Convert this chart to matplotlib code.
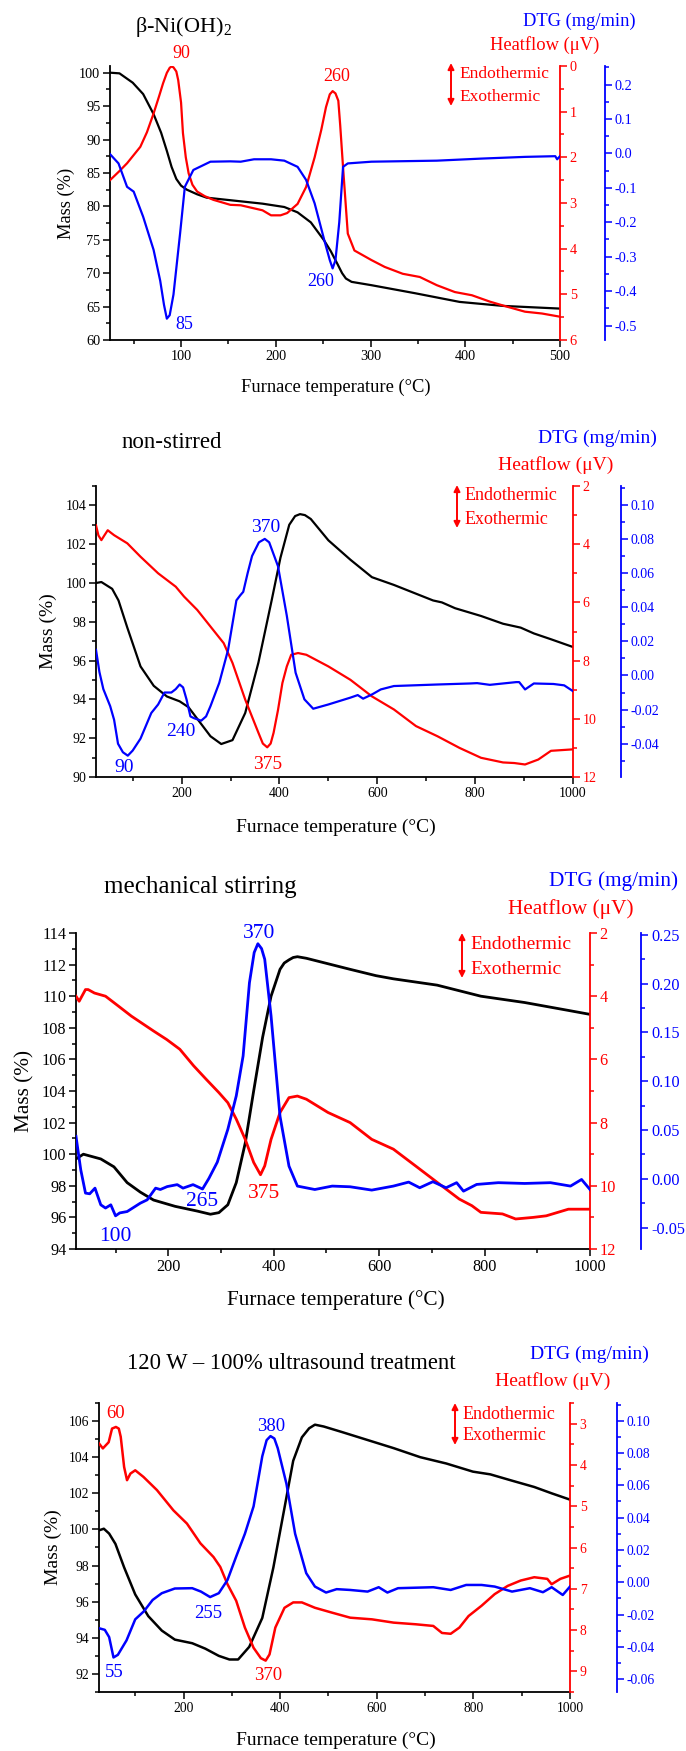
import matplotlib.pyplot as plt
from matplotlib.ticker import MultipleLocator, FormatStrFormatter

plt.rcParams['font.family'] = ['Liberation Serif', 'DejaVu Serif']
plt.rcParams['mathtext.fontset'] = 'custom'
plt.rcParams['mathtext.rm'] = 'Liberation Serif'
plt.rcParams['mathtext.it'] = 'Liberation Serif:italic'
plt.rcParams['axes.unicode_minus'] = False

# ---------------- beta-Ni(OH)2 ----------------
ni_mass_T = [25, 35, 49, 60, 71, 79, 85, 90, 95, 100, 106, 117, 127, 140, 186, 209, 223, 237, 251, 258,
             265, 270, 274, 280, 301, 347, 394, 440, 500]
ni_mass = [100, 99.9, 98.5, 96.8, 93.8, 91.0, 88.3, 85.9, 84.1, 83.1, 82.5, 81.8, 81.3, 81.1, 80.4, 79.9,
           79.1, 77.6, 74.9, 73.3, 71.4, 70.0, 69.2, 68.7, 68.2, 67.0, 65.7, 65.1, 64.7]
ni_hf_T = [25, 35, 43, 50, 57, 64, 71, 77, 81, 85, 88, 90, 92, 95, 97, 100, 102, 105, 108, 112, 117, 125,
           134, 152, 163, 186, 195, 205, 212, 223, 232, 241, 248, 253, 257, 260, 263, 266, 268, 271, 276,
           283, 301, 315, 334, 352, 370, 389, 407, 426, 444, 463, 481, 500]
ni_hf = [2.5, 2.3, 2.13, 1.95, 1.77, 1.45, 1.04, 0.65, 0.38, 0.15, 0.04, 0.01, 0.03, 0.12, 0.31, 0.8, 1.47,
         2.0, 2.35, 2.6, 2.75, 2.85, 2.93, 3.04, 3.05, 3.16, 3.27, 3.27, 3.22, 3.02, 2.65, 2.0, 1.4, 0.9,
         0.62, 0.55, 0.6, 0.76, 1.3, 2.22, 3.67, 4.04, 4.25, 4.4, 4.55, 4.62, 4.8, 4.95, 5.02, 5.16, 5.27,
         5.38, 5.42, 5.49]
ni_dtg_T = [25, 34, 43, 50, 60, 71, 78, 82, 85, 88, 92, 99, 104, 113, 131, 152, 163, 177, 195, 209, 223, 232,
            241, 251, 257, 260, 263, 267, 271, 276, 301, 370, 417, 463, 495, 497, 500]
ni_dtg = [-0.002, -0.029, -0.097, -0.111, -0.184, -0.28, -0.37, -0.44, -0.48, -0.47, -0.41, -0.232,
          -0.097, -0.048, -0.024, -0.023, -0.024, -0.017, -0.017, -0.021, -0.039, -0.077, -0.145, -0.25,
          -0.31, -0.334, -0.31, -0.2, -0.039, -0.029, -0.024, -0.021, -0.015, -0.01, -0.008, -0.017, -0.008]

# ---------------- non-stirred ----------------
ns_mass_T = [25, 36, 58, 71, 89, 116, 143, 170, 196, 214, 232, 259, 281, 304, 330, 357, 384, 402, 420, 432,
             442, 452, 464, 500, 545, 589, 634, 679, 714, 732, 759, 812, 857, 893, 920, 955, 1000]
ns_mass = [100, 100.05, 99.7, 99.1, 97.7, 95.7, 94.7, 94.15, 93.9, 93.6, 93.0, 92.1, 91.7, 91.9, 93.3,
           95.9, 99.1, 101.3, 103.0, 103.45, 103.55, 103.5, 103.3, 102.2, 101.2, 100.3, 99.9, 99.45, 99.1,
           99.0, 98.7, 98.3, 97.9, 97.7, 97.4, 97.1, 96.7]
ns_hf_T = [25, 30, 36, 42, 49, 55, 62, 89, 116, 152, 188, 205, 232, 259, 286, 304, 330, 357, 366, 375, 382,
           388, 397, 406, 415, 424, 438, 455, 500, 545, 589, 634, 679, 723, 768, 812, 857, 880, 902, 929,
           955, 1000]
ns_hf = [3.35, 3.7, 3.86, 3.7, 3.52, 3.6, 3.69, 3.97, 4.43, 5.0, 5.46, 5.8, 6.26, 6.83, 7.4, 8.08, 9.34,
         10.48, 10.85, 10.98, 10.85, 10.48, 9.7, 8.77, 8.2, 7.8, 7.74, 7.8, 8.2, 8.66, 9.23, 9.68, 10.25,
         10.6, 11.0, 11.34, 11.5, 11.52, 11.57, 11.4, 11.1, 11.05]
ns_dtg_T = [25, 32, 40, 54, 62, 70, 80, 90, 100, 116, 138, 152, 165, 179, 188, 196, 203, 210, 218, 225, 240,
            250, 259, 277, 295, 312, 320, 326, 335, 344, 358, 370, 379, 397, 415, 433, 451, 469, 500, 545,
            560, 571, 590, 607, 634, 723, 790, 804, 830, 884, 890, 902, 920, 960, 982, 1000]
ns_dtg = [0.015, 0.002, -0.008, -0.018, -0.026, -0.04, -0.045, -0.047, -0.044, -0.037, -0.022, -0.017,
          -0.010, -0.010, -0.008, -0.0053, -0.007, -0.014, -0.024, -0.025, -0.0265, -0.024, -0.018,
          -0.0043, 0.015, 0.044, 0.047, 0.049, 0.06, 0.070, 0.078, 0.080, 0.078, 0.064, 0.035, 0.0016,
          -0.014, -0.0195, -0.017, -0.013, -0.0115, -0.0136, -0.011, -0.0082, -0.0062, -0.0053, -0.0047,
          -0.0045, -0.0055, -0.0039, -0.0039, -0.0082, -0.0047, -0.005, -0.0058, -0.0092]

# ---------------- mechanical stirring ----------------
ms_mass_T = [25, 39, 72, 97, 122, 147, 172, 213, 255, 280, 296, 313, 329, 346, 362, 379, 395, 412, 420, 429,
             437, 445, 462, 545, 594, 627, 710, 793, 876, 959, 1000]
ms_mass = [99.7, 100.0, 99.7, 99.2, 98.2, 97.6, 97.1, 96.7, 96.4, 96.2, 96.3, 96.8, 98.2, 100.7, 104.0,
           107.4, 110.0, 111.7, 112.1, 112.3, 112.45, 112.5, 112.4, 111.7, 111.3, 111.1, 110.7, 110.0,
           109.6, 109.1, 108.85]
ms_hf_T = [25, 31, 43, 48, 60, 81, 106, 130, 172, 197, 222, 248, 272, 296, 313, 329, 346, 362, 375, 383,
           395, 412, 429, 445, 462, 503, 545, 586, 627, 669, 710, 752, 776, 793, 834, 859, 892, 917, 959,
           1000]
ms_hf = [4.0, 4.16, 3.79, 3.79, 3.9, 4.0, 4.32, 4.63, 5.1, 5.37, 5.68, 6.2, 6.63, 7.05, 7.37, 7.89, 8.53,
         9.26, 9.65, 9.37, 8.53, 7.68, 7.21, 7.16, 7.26, 7.68, 8.0, 8.53, 8.84, 9.37, 9.89, 10.42, 10.63,
         10.84, 10.89, 11.05, 11.0, 10.95, 10.74, 10.74]
ms_dtg_T = [25, 34, 43, 51, 61, 72, 81, 91, 100, 108, 122, 147, 160, 176, 185, 198, 217, 228, 247, 265, 277,
            293, 313, 329, 342, 354, 363, 370, 377, 383, 395, 412, 429, 445, 478, 511, 545, 586, 627, 656,
            677, 702, 727, 747, 760, 785, 826, 876, 925, 963, 984, 1000]
ms_dtg = [0.0435, 0.0093, -0.0147, -0.0154, -0.0096, -0.0267, -0.030, -0.0267, -0.038, -0.035, -0.0336,
          -0.025, -0.0216, -0.0096, -0.011, -0.008, -0.006, -0.0096, -0.006, -0.0105, 0.0003, 0.017,
          0.0507, 0.085, 0.126, 0.201, 0.232, 0.241, 0.236, 0.225, 0.167, 0.064, 0.013, -0.0075, -0.011,
          -0.0075, -0.0082, -0.0116, -0.0075, -0.0034, -0.0092, -0.003, -0.0092, -0.004, -0.0127, -0.0058,
          -0.004, -0.0048, -0.004, -0.0075, -0.0007, -0.011]

# ---------------- 120 W - 100% ultrasound ----------------
us_mass_T = [25, 35, 46, 59, 77, 100, 127, 155, 182, 218, 245, 273, 295, 313, 336, 363, 386, 409, 427, 445,
             460, 472, 490, 527, 563, 599, 635, 690, 744, 799, 835, 880, 926, 962, 1000]
us_mass = [99.95, 100.04, 99.77, 99.2, 97.9, 96.4, 95.2, 94.4, 93.9, 93.7, 93.4, 93.0, 92.8, 92.8, 93.5,
           95.1, 97.9, 101.2, 103.8, 105.1, 105.6, 105.8, 105.7, 105.4, 105.1, 104.8, 104.5, 104.0, 103.65,
           103.2, 103.05, 102.7, 102.35, 102.0, 101.65]
us_hf_T = [25, 33, 45, 52, 60, 66, 70, 77, 83, 90, 100, 117, 145, 179, 207, 235, 262, 276, 291, 309, 327,
           345, 360, 370, 378, 390, 409, 427, 445, 472, 508, 545, 590, 635, 681, 717, 735, 753, 771, 790,
           817, 844, 871, 898, 926, 953, 962, 980, 1000]
us_hf = [3.48, 3.6, 3.45, 3.12, 3.08, 3.12, 3.32, 4.05, 4.37, 4.21, 4.13, 4.29, 4.61, 5.1, 5.42, 5.9,
         6.23, 6.47, 6.89, 7.29, 7.94, 8.43, 8.68, 8.74, 8.59, 7.94, 7.46, 7.33, 7.33, 7.46, 7.58, 7.7,
         7.74, 7.82, 7.86, 7.9, 8.07, 8.09, 7.94, 7.66, 7.41, 7.13, 6.93, 6.8, 6.72, 6.76, 6.89, 6.76, 6.68]
us_dtg_T = [25, 37, 46, 55, 64, 82, 100, 118, 136, 155, 182, 218, 236, 255, 273, 291, 309, 327, 345, 363,
            372, 380, 388, 395, 413, 431, 454, 472, 495, 517, 545, 581, 604, 622, 644, 717, 753, 785, 817,
            844, 880, 917, 944, 962, 985, 1000]
us_dtg = [-0.0285, -0.0295, -0.034, -0.0466, -0.045, -0.036, -0.023, -0.018, -0.011, -0.0068, -0.0039,
          -0.0037, -0.0058, -0.0092, -0.0068, 0.0014, 0.0159, 0.030, 0.047, 0.078, 0.088, 0.0905, 0.089,
          0.083, 0.061, 0.030, 0.0056, -0.0027, -0.0064, -0.0043, -0.0048, -0.0058, -0.0031, -0.0064,
          -0.0037, -0.0031, -0.0048, -0.0017, -0.0017, -0.0027, -0.0058, -0.0037, -0.0062, -0.0031,
          -0.0079, -0.0027]

W, H = 686, 1751
fig = plt.figure(figsize=(W / 100, H / 100), dpi=100)


def fx(x):
    return x / W


def fy(y):
    return 1 - y / H


def panel(box, curves, xlim, xmaj, mlim, mmaj, hlim, hmaj, dlim, dmaj, dfmt, fs, lw, peaks, txt):
    l, r, t, b = box
    ax = fig.add_axes([fx(l), fy(b), (r - l) / W, (b - t) / H])
    axh = ax.twinx()
    axd = ax.twinx()
    (Tm, m), (Th, h), (Td, d) = curves
    ax.plot(Tm, m, color='black', lw=lw)
    axh.plot(Th, h, color='red', lw=lw)
    axd.plot(Td, d, color='blue', lw=lw)

    ax.set_xlim(*xlim)
    ax.set_ylim(*mlim)
    axh.set_ylim(*hlim)
    axd.set_ylim(*dlim)

    ax.xaxis.set_major_locator(MultipleLocator(xmaj))
    ax.xaxis.set_minor_locator(MultipleLocator(xmaj / 2))
    ax.yaxis.set_major_locator(MultipleLocator(mmaj))
    ax.yaxis.set_minor_locator(MultipleLocator(mmaj / 2))
    axh.yaxis.set_major_locator(MultipleLocator(hmaj))
    axh.yaxis.set_minor_locator(MultipleLocator(hmaj / 2))
    axd.yaxis.set_major_locator(MultipleLocator(dmaj))
    axd.yaxis.set_minor_locator(MultipleLocator(dmaj / 2))
    axd.yaxis.set_major_formatter(FormatStrFormatter(dfmt))

    for a in (ax, axh, axd):
        a.spines['top'].set_visible(False)
        a.tick_params(which='major', direction='out', length=5, width=1.1, labelsize=fs['tick'], pad=2)
        a.tick_params(which='minor', direction='out', length=3, width=1.1)
    ax.spines['right'].set_visible(False)
    for a in (axh, axd):
        a.spines['left'].set_visible(False)
        a.spines['bottom'].set_visible(False)
    for s in ('left', 'bottom'):
        ax.spines[s].set_linewidth(1.3)
    axh.spines['right'].set_color('red')
    axh.spines['right'].set_linewidth(1.3)
    axh.tick_params(axis='y', which='both', colors='red')
    axd.spines['right'].set_position(('axes', 1.1))
    axd.spines['right'].set_color('blue')
    axd.spines['right'].set_linewidth(1.3)
    axd.tick_params(axis='y', which='both', colors='blue')

    for label, T, yf, col in peaks:
        ax.annotate(label, xy=(T, yf), xycoords=('data', 'axes fraction'), ha='center', va='center',
                    color=col, fontsize=fs['peak'], annotation_clip=False)

    title, ty, tx = txt['title']
    fig.text(fx(tx), fy(ty), title, fontsize=fs['title'], ha='left', va='center')
    dx, dy = txt['dtg']
    fig.text(fx(dx), fy(dy), 'DTG (mg/min)', color='blue', fontsize=fs['axis'], ha='right', va='center')
    hx, hy = txt['hf']
    fig.text(fx(hx), fy(hy), 'Heatflow (\u03bcV)', color='red', fontsize=fs['axis'], ha='right', va='center')
    fig.text(fx(336), fy(txt['xlab']), 'Furnace temperature (\u00b0C)', fontsize=fs['axis'],
             ha='center', va='center')
    fig.text(fx(txt['ylab']), fy((t + b) / 2), 'Mass (%)', fontsize=fs['axis'], rotation=90,
             ha='center', va='center')

    # endothermic / exothermic double arrow
    arx, ey1, ey2 = txt['endo']
    fig.text(fx(arx + 8), fy(ey1), 'Endothermic', color='red', fontsize=fs['endo'], ha='left', va='center')
    fig.text(fx(arx + 8), fy(ey2), 'Exothermic', color='red', fontsize=fs['endo'], ha='left', va='center')
    ax.annotate('', xy=(fx(arx), fy(ey1 - 11)), xytext=(fx(arx), fy(ey2 + 9)), xycoords='figure fraction',
                arrowprops=dict(arrowstyle='<|-|>', color='red', lw=1.4, mutation_scale=9,
                                shrinkA=0, shrinkB=0))
    return ax


panel((110, 560, 66, 340),
      [(ni_mass_T, ni_mass), (ni_hf_T, ni_hf), (ni_dtg_T, ni_dtg)],
      (25, 500), 100, (60, 101), 5, (6, 0), 1, (-0.542, 0.254), 0.1, '%.1f',
      dict(tick=10.3, peak=13, title=16, axis=13.3, endo=12.5), 1.6,
      [('90', 100, 1.044, 'red'), ('260', 264, 0.96, 'red'),
       ('260', 247, 0.212, 'blue'), ('85', 103, 0.055, 'blue')],
      dict(title=('\u03b2-Ni(OH)$_2$', 27, 135), dtg=(636, 21), hf=(599, 45), xlab=387, ylab=66,
           endo=(451, 74, 97)))

panel((96, 573, 486, 777),
      [(ns_mass_T, ns_mass), (ns_hf_T, ns_hf), (ns_dtg_T, ns_dtg)],
      (25, 1000), 200, (90, 105), 2, (12, 2), 2, (-0.0595, 0.111), 0.02, '%.2f',
      dict(tick=10, peak=14, title=16.5, axis=14, endo=13), 1.6,
      [('370', 372, 0.858, 'blue'), ('240', 198, 0.155, 'blue'),
       ('90', 82, 0.032, 'blue'), ('375', 376, 0.042, 'red')],
      dict(title=('non-stirred', 443, 122), dtg=(657, 438), hf=(613, 465), xlab=827, ylab=48,
           endo=(457, 496, 519)))

panel((76, 590, 933, 1249),
      [(ms_mass_T, ms_mass), (ms_hf_T, ms_hf), (ms_dtg_T, ms_dtg)],
      (25, 1000), 200, (94, 114), 2, (12, 2), 2, (-0.072, 0.252), 0.05, '%.2f',
      dict(tick=11.7, peak=15.5, title=18, axis=15.3, endo=14), 2.0,
      [('370', 372, 1.0, 'blue'), ('375', 382, 0.177, 'red'),
       ('265', 265, 0.149, 'blue'), ('100', 100, 0.041, 'blue')],
      dict(title=('mechanical stirring', 887, 104), dtg=(678, 881), hf=(633, 909), xlab=1300, ylab=25,
           endo=(462, 944, 969)))

panel((99, 570, 1403, 1692),
      [(us_mass_T, us_mass), (us_hf_T, us_hf), (us_dtg_T, us_dtg)],
      (25, 1000), 200, (91, 107), 2, (9.5, 2.5), 1, (-0.068, 0.111), 0.02, '%.2f',
      dict(tick=9.8, peak=13.5, title=16.3, axis=14, endo=13), 1.8,
      [('60', 60, 0.962, 'red'), ('380', 382, 0.92, 'blue'), ('255', 251, 0.27, 'blue'),
       ('55', 56, 0.066, 'blue'), ('370', 376, 0.057, 'red')],
      dict(title=('120 W \u2013 100% ultrasound treatment', 1363, 127), dtg=(649, 1354), hf=(610, 1381),
           xlab=1740, ylab=53, endo=(455, 1414, 1436)))

fig.savefig('out.png', dpi=100)
